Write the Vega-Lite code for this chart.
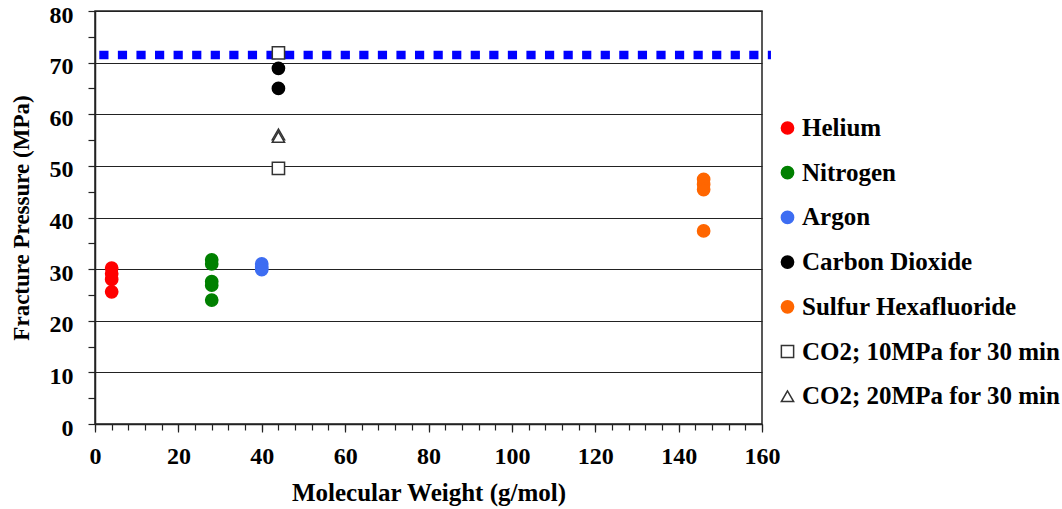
{
  "$schema": "https://vega.github.io/schema/vega-lite/v6.json",
  "width": 667,
  "height": 413,
  "autosize": {"type": "none"},
  "padding": {"left": 95, "top": 11, "right": 300, "bottom": 85},
  "background": "white",
  "resolve": {"axis": {"x": "independent", "y": "independent"}},
  "config": {
    "font": "'Liberation Serif', 'Times New Roman', Times, 'DejaVu Serif', serif",
    "view": {"stroke": "#222", "strokeWidth": 1.5},
    "axis": {
      "labelFont": "'Liberation Serif', 'Times New Roman', Times, 'DejaVu Serif', serif",
      "labelFontWeight": "bold",
      "labelFontSize": 24,
      "labelColor": "black",
      "titleFont": "'Liberation Serif', 'Times New Roman', Times, 'DejaVu Serif', serif",
      "titleFontWeight": "bold",
      "titleColor": "black",
      "domainColor": "#222",
      "domainWidth": 1.5,
      "tickColor": "#222",
      "tickWidth": 1.2
    },
    "legend": {
      "labelFont": "'Liberation Serif', 'Times New Roman', Times, 'DejaVu Serif', serif",
      "labelFontWeight": "bold",
      "labelFontSize": 25,
      "labelColor": "black",
      "symbolStrokeWidth": 1.5,
      "rowPadding": 18.7,
      "labelOffset": 2,
      "labelLimit": 400,
      "padding": 0
    }
  },
  "layer": [
    {
      "data": {"values": [{"x0": 0, "x1": 162.15, "p": 71.5}]},
      "mark": {"type": "rule", "color": "#0000FF", "strokeWidth": 8.5, "strokeDash": [9.2, 9.37], "strokeDashOffset": 14.27, "clip": false},
      "encoding": {
        "x": {
          "field": "x0", "type": "quantitative",
          "scale": {"domain": [0, 160], "nice": false},
          "axis": {
            "orient": "bottom",
            "title": null,
            "values": [0,4,8,12,16,20,24,28,32,36,40,44,48,52,56,60,64,68,72,76,80,84,88,92,96,100,104,108,112,116,120,124,128,132,136,140,144,148,152,156,160],
            "labels": false,
            "grid": false,
            "domain": false,
            "tickSize": 6
          }
        },
        "x2": {"field": "x1"},
        "y": {
          "field": "p", "type": "quantitative",
          "scale": {"domain": [0, 80], "nice": false},
          "axis": {
            "orient": "left",
            "title": null,
            "values": [5,15,25,35,45,55,65,75],
            "labels": false,
            "grid": false,
            "domain": false,
            "tickSize": 7
          }
        }
      }
    },
    {
      "data": {"values": [
        {"series": "Helium", "mw": 4, "p": 30.2},
        {"series": "Helium", "mw": 4, "p": 29.1},
        {"series": "Helium", "mw": 4, "p": 28.0},
        {"series": "Helium", "mw": 4, "p": 25.6},
        {"series": "Nitrogen", "mw": 28, "p": 31.8},
        {"series": "Nitrogen", "mw": 28, "p": 31.0},
        {"series": "Nitrogen", "mw": 28, "p": 27.6},
        {"series": "Nitrogen", "mw": 28, "p": 26.9},
        {"series": "Nitrogen", "mw": 28, "p": 24.0},
        {"series": "Argon", "mw": 40, "p": 31.0},
        {"series": "Argon", "mw": 40, "p": 30.4},
        {"series": "Argon", "mw": 40, "p": 29.9},
        {"series": "Carbon Dioxide", "mw": 44, "p": 68.9},
        {"series": "Carbon Dioxide", "mw": 44, "p": 65.0},
        {"series": "Sulfur Hexafluoride", "mw": 146, "p": 47.4},
        {"series": "Sulfur Hexafluoride", "mw": 146, "p": 46.4},
        {"series": "Sulfur Hexafluoride", "mw": 146, "p": 45.4},
        {"series": "Sulfur Hexafluoride", "mw": 146, "p": 37.4},
        {"series": "CO2; 10MPa for 30 min", "mw": 44, "p": 71.9},
        {"series": "CO2; 10MPa for 30 min", "mw": 44, "p": 49.5},
        {"series": "CO2; 20MPa for 30 min", "mw": 44, "p": 56.1},
        {"series": "CO2; 20MPa for 30 min", "mw": 44, "p": 55.6}
      ]},
      "mark": {"type": "point", "filled": false, "opacity": 1, "strokeWidth": 1.5},
      "encoding": {
        "x": {
          "field": "mw", "type": "quantitative",
          "scale": {"domain": [0, 160], "nice": false},
          "axis": {
            "orient": "bottom",
            "title": "Molecular Weight (g/mol)",
            "titleFontSize": 25,
            "values": [0,20,40,60,80,100,120,140,160],
            "grid": false,
            "tickSize": 8,
            "labelPadding": 12,
            "labelFlush": false,
            "labelOverlap": false,
            "titlePadding": 12
          }
        },
        "y": {
          "field": "p", "type": "quantitative",
          "scale": {"domain": [0, 80], "nice": false},
          "axis": {
            "orient": "left",
            "title": "Fracture Pressure (MPa)",
            "titleFontSize": 23,
            "values": [0,10,20,30,40,50,60,70,80],
            "grid": true,
            "gridColor": "#222",
            "gridWidth": 1.2,
            "tickSize": 7,
            "labelPadding": 15,
            "labelOffset": 4,
            "labelOverlap": false,
            "labelFlush": false,
            "titlePadding": 16
          }
        },
        "shape": {
          "field": "series", "type": "nominal",
          "scale": {
            "domain": ["Helium", "Nitrogen", "Argon", "Carbon Dioxide", "Sulfur Hexafluoride", "CO2; 10MPa for 30 min", "CO2; 20MPa for 30 min"],
            "range": ["circle", "circle", "circle", "circle", "circle", "square", "triangle-up"]
          },
          "legend": {"title": null, "orient": "none", "legendX": 680, "legendY": 104.5}
        },
        "size": {
          "field": "series", "type": "nominal",
          "scale": {
            "domain": ["Helium", "Nitrogen", "Argon", "Carbon Dioxide", "Sulfur Hexafluoride", "CO2; 10MPa for 30 min", "CO2; 20MPa for 30 min"],
            "range": [150, 150, 150, 150, 150, 185, 180]
          },
          "legend": {"title": null, "orient": "none", "legendX": 680, "legendY": 104.5}
        },
        "fill": {
          "field": "series", "type": "nominal",
          "scale": {
            "domain": ["Helium", "Nitrogen", "Argon", "Carbon Dioxide", "Sulfur Hexafluoride", "CO2; 10MPa for 30 min", "CO2; 20MPa for 30 min"],
            "range": ["#FF0000", "#008000", "#3D6DF2", "#000000", "#FF6600", "#FFFFFF", "#FFFFFF"]
          },
          "legend": {"title": null, "orient": "none", "legendX": 680, "legendY": 104.5}
        },
        "stroke": {
          "field": "series", "type": "nominal",
          "scale": {
            "domain": ["Helium", "Nitrogen", "Argon", "Carbon Dioxide", "Sulfur Hexafluoride", "CO2; 10MPa for 30 min", "CO2; 20MPa for 30 min"],
            "range": ["#FF0000", "#008000", "#3D6DF2", "#000000", "#FF6600", "#333333", "#333333"]
          },
          "legend": {"title": null, "orient": "none", "legendX": 680, "legendY": 104.5}
        }
      }
    }
  ]
}
